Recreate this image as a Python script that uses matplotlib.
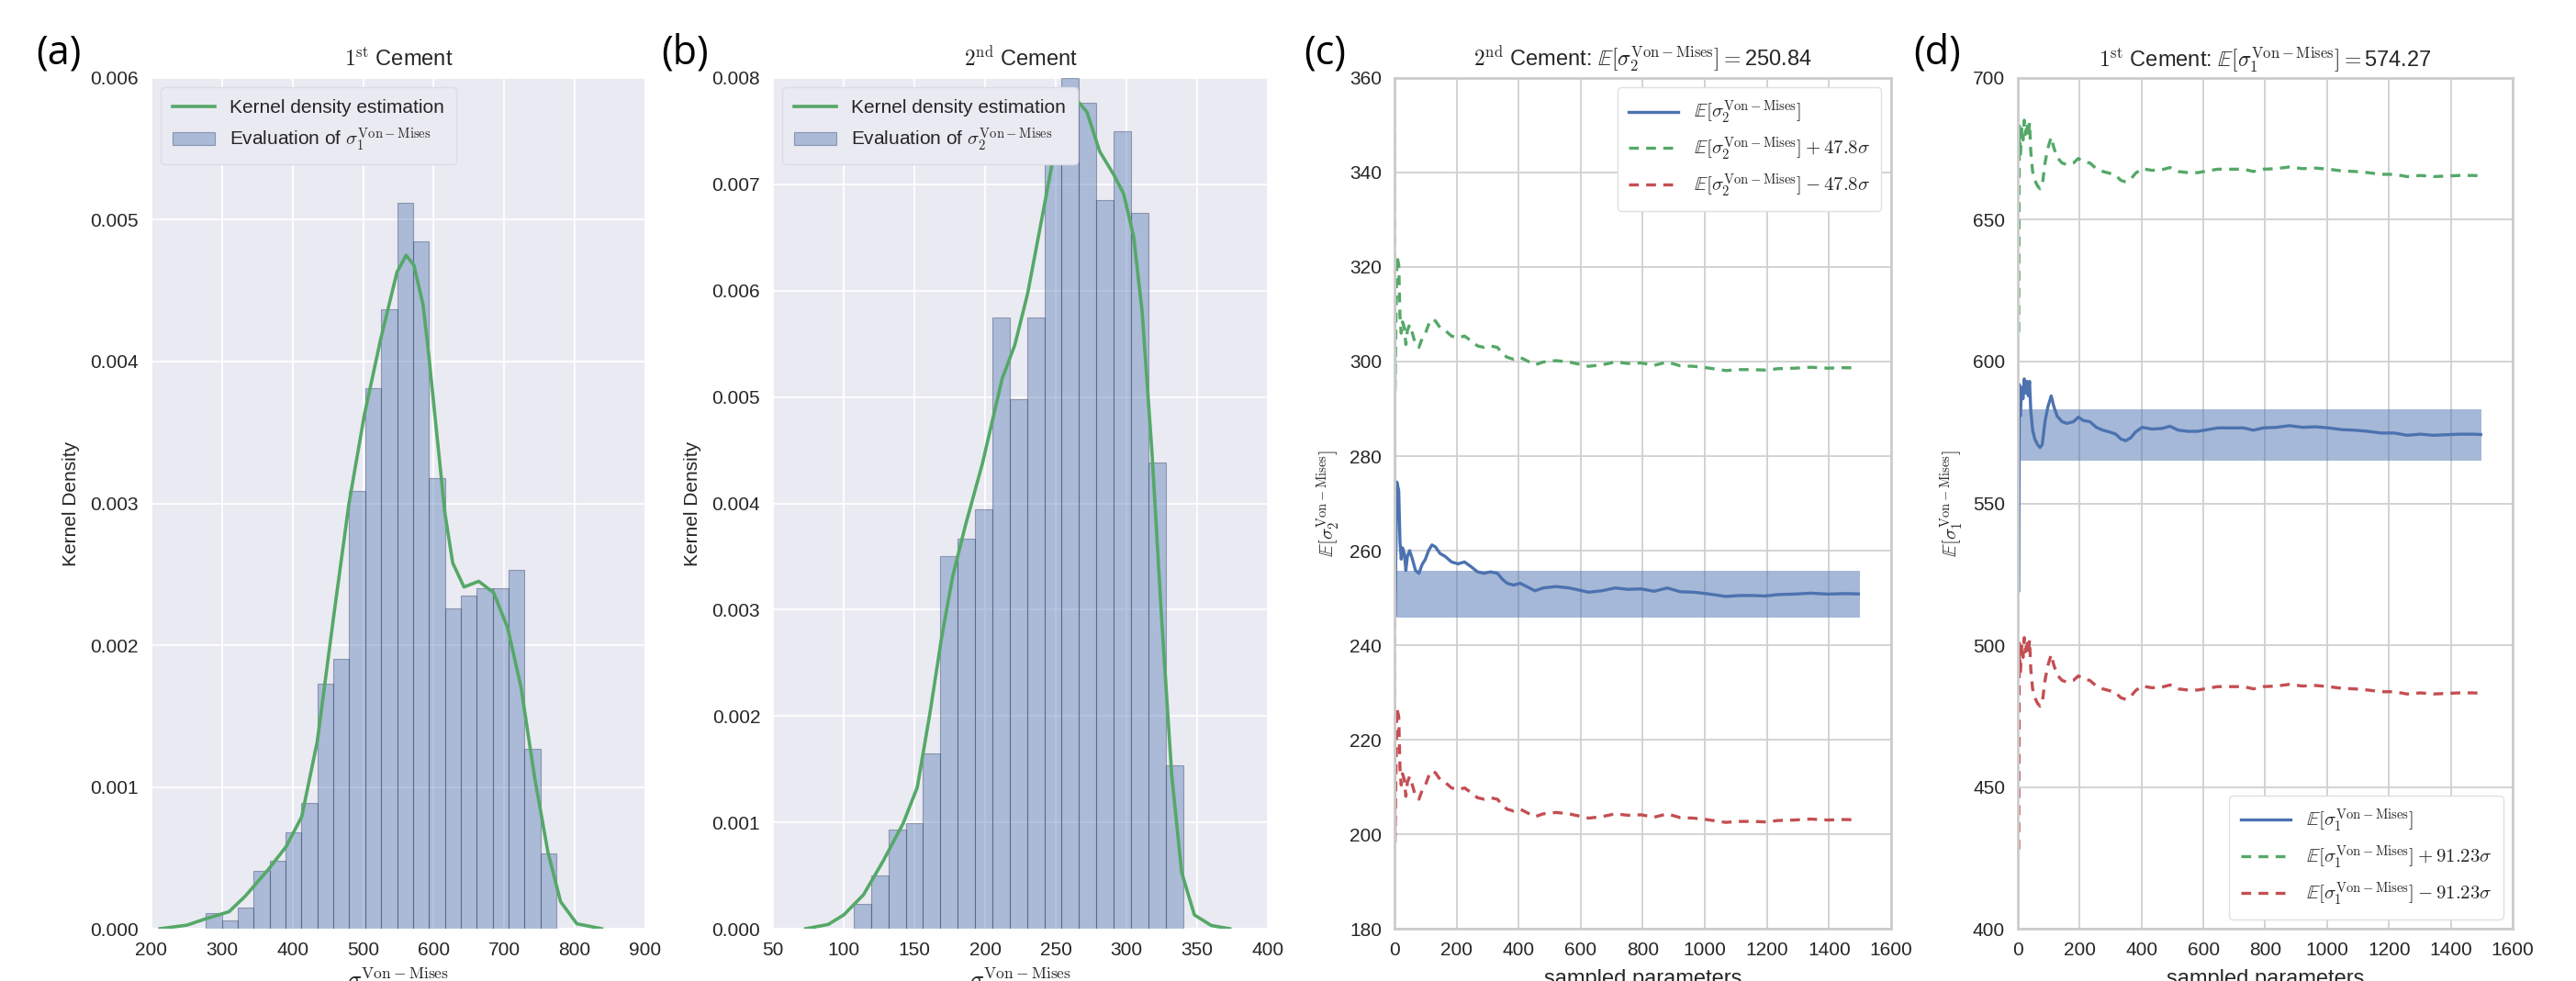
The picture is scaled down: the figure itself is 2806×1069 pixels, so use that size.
import numpy as np
import matplotlib
matplotlib.use('Agg')
import matplotlib.pyplot as plt

plt.rcParams['font.family'] = ['Liberation Sans', 'DejaVu Sans']
plt.rcParams['mathtext.fontset'] = 'cm'

# ---- данные ----
# (a) 1st Cement: гистограмма и ядерная оценка плотности
hist1_start = 277.0
hist1_width = 22.6
hist1_heights = [0.000112, 0.00006, 0.00015, 0.00041, 0.00048, 0.00068, 0.00089, 0.00173,
                 0.00190, 0.00309, 0.00381, 0.00437, 0.00512, 0.00485, 0.00318, 0.00226,
                 0.00235, 0.00240, 0.00240, 0.00253, 0.00127, 0.00053]
kde1_x = [212, 250, 277, 310, 333, 366, 391, 413, 435, 459, 480, 502, 525, 548, 561, 572,
          585, 593, 603, 616, 627, 643, 664, 685, 705, 724, 743, 762, 780, 803, 838]
kde1_y = [0.0, 0.000025, 0.00007, 0.00012, 0.00023, 0.00042, 0.00058, 0.00079, 0.00132,
          0.00223, 0.00300, 0.00363, 0.00416, 0.00463, 0.00475, 0.00468, 0.00440, 0.00405,
          0.00356, 0.00293, 0.00258, 0.00241, 0.00245, 0.00237, 0.00212, 0.00170, 0.00107,
          0.00054, 0.00019, 0.000035, 0.0]

# (b) 2nd Cement
hist2_start = 107.0
hist2_width = 12.26
hist2_heights = [0.00023, 0.0005, 0.00093, 0.00099, 0.00165, 0.0035, 0.00367, 0.00394,
                 0.00575, 0.00498, 0.00575, 0.00731, 0.0080, 0.00777, 0.00685, 0.0075,
                 0.00673, 0.00438, 0.00154]
kde2_x = [73, 89, 100, 114, 128, 142, 152, 161, 169, 177, 186, 198, 212, 221, 230, 240,
          249, 258, 265, 272, 281, 291, 298, 305, 311, 318, 325, 332, 339, 348, 360, 373]
kde2_y = [0.0, 0.00004, 0.00013, 0.00032, 0.00064, 0.00099, 0.00133, 0.00203, 0.00272,
          0.00331, 0.00379, 0.00437, 0.00517, 0.00549, 0.00597, 0.00667, 0.00731, 0.00771,
          0.00779, 0.00768, 0.00731, 0.00709, 0.00691, 0.00651, 0.00581, 0.00448, 0.00288,
          0.00144, 0.00053, 0.00013, 0.00003, 0.0]

# (c) сходимость среднего, 2nd Cement
samples_c = [0, 2, 8, 14, 18, 22, 26, 32, 37, 42, 49, 58, 68, 79, 89, 100, 110, 121, 132,
             147, 163, 184, 205, 226, 247, 268, 289, 310, 332, 347, 363, 384, 405, 426, 453,
             479, 521, 563, 605, 626, 668, 711, 753, 795, 837, 879, 921, 963, 1005, 1026,
             1068, 1111, 1153, 1195, 1237, 1289, 1342, 1395, 1447, 1495]
mean_c = [304.2, 246.1, 274.5, 272.7, 261.8, 258.2, 260.6, 259.4, 255.8, 258.8, 260.0,
          258.2, 255.8, 255.2, 257.0, 258.2, 260.0, 261.2, 260.8, 259.4, 258.8, 257.6,
          257.2, 257.6, 256.6, 255.5, 255.2, 255.5, 255.2, 254.0, 253.1, 252.7, 253.1,
          252.4, 251.5, 252.1, 252.4, 252.1, 251.5, 251.2, 251.5, 252.1, 251.8, 251.9,
          251.4, 252.1, 251.3, 251.2, 250.9, 250.7, 250.3, 250.5, 250.5, 250.4, 250.7,
          250.8, 251.0, 250.8, 250.9, 250.84]
sigma_c = 47.8
band_c = [245.9, 255.8]

# (d) сходимость среднего, 1st Cement
samples_d = [3, 5, 8, 13, 17, 21, 25, 30, 34, 38, 42, 48, 55, 64, 72, 79, 88, 97, 108, 116,
             127, 143, 159, 180, 196, 212, 233, 254, 275, 296, 317, 333, 349, 365, 381, 402,
             434, 466, 492, 519, 550, 582, 614, 646, 688, 730, 762, 794, 836, 878, 921, 963,
             1005, 1048, 1090, 1132, 1175, 1217, 1259, 1302, 1344, 1386, 1429, 1471, 1497]
mean_d = [519.2, 591.9, 580.8, 590.9, 586.9, 593.9, 588.9, 593.0, 587.9, 593.0, 582.8,
          575.8, 572.7, 570.7, 569.7, 570.7, 578.8, 583.9, 587.9, 584.4, 580.8, 578.8,
          578.2, 578.8, 580.4, 579.2, 578.8, 576.8, 575.8, 575.2, 574.4, 572.7, 572.1,
          573.1, 575.2, 576.8, 576.2, 576.4, 577.2, 575.8, 575.4, 575.4, 576.0, 576.6,
          576.6, 576.6, 575.8, 576.6, 576.8, 577.4, 576.8, 577.0, 576.6, 576.0, 575.8,
          575.4, 574.8, 574.8, 574.0, 574.4, 574.0, 574.2, 574.4, 574.4, 574.27]
sigma_d = 91.23
band_d = [565.0, 583.3]
band_end = 1500

BLUE = '#4C72B0'
GREEN = '#55A868'
RED = '#C44E52'
TXT = '#262626'

fig = plt.figure(figsize=(28.06, 10.69), dpi=100)

ax_bot = 0.0533
ax_h = 0.8672
lefts = [0.0588, 0.3001, 0.5413, 0.7833]
widths = [0.1917, 0.1921, 0.1928, 0.1921]
axs = [fig.add_axes([lefts[i], ax_bot, widths[i], ax_h]) for i in range(4)]


def style_dark(ax):
    ax.set_facecolor('#EAEAF2')
    ax.grid(True, color='white', linewidth=1.3)
    ax.set_axisbelow(True)
    for s in ax.spines.values():
        s.set_visible(False)
    ax.tick_params(length=0, pad=10, labelsize=15, colors=TXT)


def style_white(ax):
    ax.set_facecolor('white')
    ax.grid(True, color='#d0d0d0', linewidth=1.3)
    ax.set_axisbelow(True)
    for s in ax.spines.values():
        s.set_color('#cccccc')
        s.set_linewidth(2)
    ax.tick_params(length=0, pad=10, labelsize=15, colors=TXT)


# гистограммы
hists = [(hist1_start, hist1_width, hist1_heights, kde1_x, kde1_y, 1),
         (hist2_start, hist2_width, hist2_heights, kde2_x, kde2_y, 2)]
titles_h = [r'$1^{\mathrm{st}}$ Cement', r'$2^{\mathrm{nd}}$ Cement']
for k, (st, w, h, kx, ky, idx) in enumerate(hists):
    ax = axs[k]
    style_dark(ax)
    lefts_b = st + w * np.arange(len(h))
    ax.bar(lefts_b, h, width=w, align='edge', color=BLUE, alpha=0.4,
           edgecolor='#2a3a5a', linewidth=0.8,
           label=r'Evaluation of $\sigma_%d^{\mathrm{Von-Mises}}$' % idx)
    ax.plot(kx, ky, color=GREEN, lw=2.6, label='Kernel density estimation')
    ax.set_title(titles_h[k], fontsize=17, color=TXT, pad=9)
    ax.set_ylabel('Kernel Density', fontsize=15, color=TXT, labelpad=8)
    ax.set_xlabel(r'$\sigma_%d^{\mathrm{Von-Mises}}$' % idx, fontsize=18, color=TXT, labelpad=6)
    leg = ax.legend(loc='upper left', fontsize=15, frameon=True,
                    facecolor='#EAEAF2', edgecolor='#dcdce6', framealpha=1,
                    borderpad=0.6, handlelength=2.2)
    for t in leg.get_texts():
        t.set_color(TXT)

axs[0].set_xlim(200, 900)
axs[0].set_ylim(0, 0.006)
axs[0].set_xticks(np.arange(200, 901, 100))
axs[1].set_xlim(50, 400)
axs[1].set_ylim(0, 0.008)
axs[1].set_xticks(np.arange(50, 401, 50))

# сходимость
conv = [(samples_c, mean_c, sigma_c, band_c, 2, '47.8', 'upper right', (180, 360), 250.84, '2^{\\mathrm{nd}}'),
        (samples_d, mean_d, sigma_d, band_d, 1, '91.23', 'lower right', (400, 700), 574.27, '1^{\\mathrm{st}}')]
for k, (xs, m, sg, band, idx, sgtxt, loc, ylim, final, ordn) in enumerate(conv):
    ax = axs[k + 2]
    style_white(ax)
    xs = np.array(xs)
    m = np.array(m)
    E = r'\mathbb{E}[\sigma_%d^{\mathrm{Von-Mises}}]' % idx
    ax.fill_between([0, band_end], band[0], band[1], color=BLUE, alpha=0.5, lw=0)
    ax.plot(xs, m, color=BLUE, lw=2.4, label=r'$%s$' % E)
    ax.plot(xs, m + sg, color=GREEN, lw=2.4, ls=(0, (3.2, 2.4)), label=r'$%s+%s\sigma$' % (E, sgtxt))
    ax.plot(xs, m - sg, color=RED, lw=2.4, ls=(0, (3.2, 2.4)), label=r'$%s-%s\sigma$' % (E, sgtxt))
    ax.set_xlim(0, 1600)
    ax.set_ylim(*ylim)
    ax.set_xticks(np.arange(0, 1601, 200))
    ax.set_title(r'$%s$ Cement: $%s=$%.2f' % (ordn, E, final), fontsize=17, color=TXT, pad=9)
    ax.set_ylabel(r'$%s$' % E, fontsize=15, color=TXT, labelpad=6)
    ax.set_xlabel('sampled parameters', fontsize=17, color=TXT, labelpad=8)
    leg = ax.legend(loc=loc, fontsize=15, frameon=True, facecolor='white',
                    edgecolor='#e0e0e0', framealpha=1, borderpad=0.6, handlelength=2.6)
    for t in leg.get_texts():
        t.set_color(TXT)

axs[2].set_yticks(np.arange(180, 361, 20))
axs[3].set_yticks(np.arange(400, 701, 50))

# подписи панелей
for lab, xp in zip(['(a)', '(b)', '(c)', '(d)'], [39, 720, 1420, 2084]):
    fig.text(xp / 2806, 1 - 58 / 1069, lab, fontsize=31, color='black',
             ha='left', va='center', family=['Open Sans', 'DejaVu Sans'])

fig.savefig('out.png', dpi=100)
